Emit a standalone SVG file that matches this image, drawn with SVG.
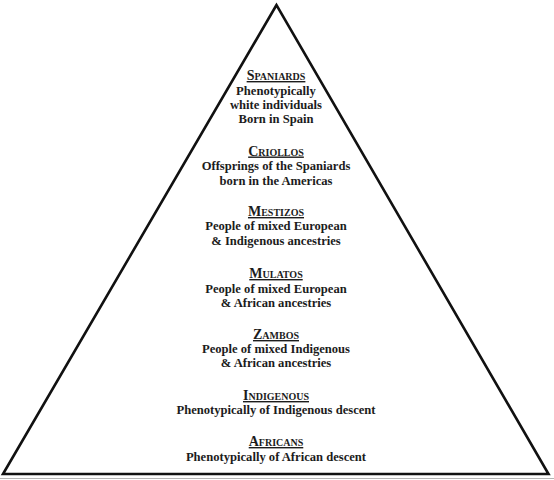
<svg xmlns="http://www.w3.org/2000/svg" width="554" height="480" viewBox="0 0 554 480">
<style>
.t{font-family:"Liberation Serif","DejaVu Serif",serif;font-size:12.6px;font-weight:bold;fill:#1c1c1c;text-anchor:middle}
.h{font-variant:small-caps;text-decoration:underline;font-size:14px}
</style>
<rect width="554" height="480" fill="#fff"/>
<g id="pyramid">
<polygon points="276.5,5 3,474 548.5,474" fill="none" stroke="#111" stroke-width="2.6" stroke-linejoin="miter"/>
<line x1="0" y1="478.5" x2="554" y2="478.5" stroke="#b4b4b4" stroke-width="1.2"/>
</g>
<g id="spaniards">
<text class="t h" x="276" y="80">Spaniards</text>
<text class="t" x="276" y="94.5">Phenotypically</text>
<text class="t" x="276" y="108.5">white individuals</text>
<text class="t" x="276" y="122.5">Born in Spain</text>
</g>
<g id="criollos">
<text class="t h" x="276" y="155.5">Criollos</text>
<text class="t" x="276" y="170">Offsprings of the Spaniards</text>
<text class="t" x="276" y="184.5">born in the Americas</text>
</g>
<g id="mestizos">
<text class="t h" x="276" y="216">Mestizos</text>
<text class="t" x="276" y="230">People of mixed European</text>
<text class="t" x="276" y="244.5">&amp; Indigenous ancestries</text>
</g>
<g id="mulatos">
<text class="t h" x="276" y="278">Mulatos</text>
<text class="t" x="276" y="292.5">People of mixed European</text>
<text class="t" x="276" y="306.5">&amp; African ancestries</text>
</g>
<g id="zambos">
<text class="t h" x="276" y="339">Zambos</text>
<text class="t" x="276" y="353">People of mixed Indigenous</text>
<text class="t" x="276" y="367">&amp; African ancestries</text>
</g>
<g id="indigenous">
<text class="t h" x="276" y="400">Indigenous</text>
<text class="t" x="276" y="414">Phenotypically of Indigenous descent</text>
</g>
<g id="africans">
<text class="t h" x="276" y="446">Africans</text>
<text class="t" x="276" y="461">Phenotypically of African descent</text>
</g>
</svg>
